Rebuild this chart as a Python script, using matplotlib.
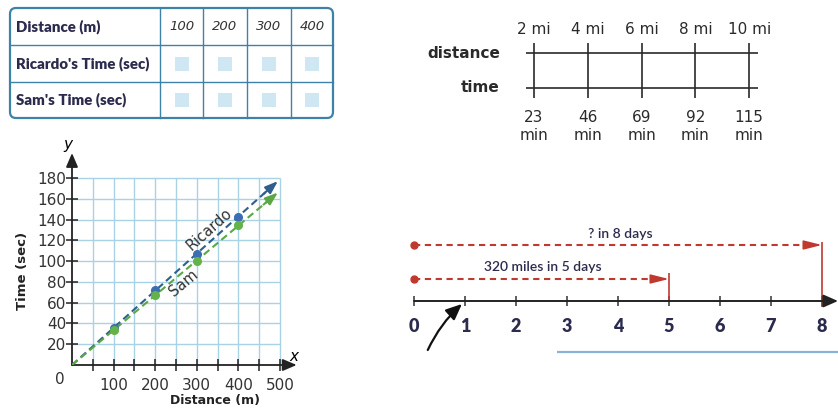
import numpy as np
import matplotlib
matplotlib.use("Agg")
import matplotlib.pyplot as plt
from matplotlib.patches import FancyBboxPatch, Rectangle

W, H = 838, 408

# ---- table data
table_header = "Distance (m)"
table_distances = [100, 200, 300, 400]
table_rows = ["Ricardo's Time (sec)", "Sam's Time (sec)"]

# ---- graph data
graph_x = [100, 200, 300, 400]
ricardo_y = [36, 72, 107, 142]
sam_y = [34, 67, 100, 135]
line_end_x = 495
ricardo_end_y = 177
sam_end_y = 166
x_ticks = [100, 200, 300, 400, 500]
x_minor = [50, 150, 250, 350, 450]
y_ticks = [20, 40, 60, 80, 100, 120, 140, 160, 180]

# ---- double number line
dnl_dist = [2, 4, 6, 8, 10]
dnl_time = [23, 46, 69, 92, 115]

# ---- day number line
days = [0, 1, 2, 3, 4, 5, 6, 7, 8]
known_days = 5
ask_days = 8
known_label = "320 miles in 5 days"
ask_label = "? in 8 days"

NARROW = ["Lato", "DejaVu Sans"]
NAVY = "#2b2b4e"
TBL = "#3f82a8"
RED = "#c0392f"

fig = plt.figure(figsize=(W / 100, H / 100), dpi=100)


def px_axes(x0, y0, x1, y1):
    return fig.add_axes([x0 / W, 1 - y1 / H, (x1 - x0) / W, (y1 - y0) / H])


# ================= table =================
at = px_axes(6, 4, 338, 122)
at.set_xlim(6, 338)
at.set_ylim(122, 4)
at.axis("off")
col_edges = [10, 160, 203, 247, 291, 333]
row_edges = [8, 45, 82, 118]
at.add_patch(FancyBboxPatch((col_edges[0], row_edges[0]), col_edges[-1] - col_edges[0],
                            row_edges[-1] - row_edges[0],
                            boxstyle="round,pad=0,rounding_size=6",
                            fc="white", ec=TBL, lw=1.6))
for cx in col_edges[1:-1]:
    at.plot([cx, cx], [row_edges[0], row_edges[-1]], color=TBL, lw=1.0)
for ry in row_edges[1:-1]:
    at.plot([col_edges[0], col_edges[-1]], [ry, ry], color=TBL, lw=1.0)

labels = [table_header] + table_rows
for i, lab in enumerate(labels):
    yc = (row_edges[i] + row_edges[i + 1]) / 2
    at.text(col_edges[0] + 6, yc, lab, ha="left", va="center", fontsize=10.8,
            fontweight="heavy", family=NARROW, color=NAVY)
for j, d in enumerate(table_distances):
    xc = (col_edges[j + 1] + col_edges[j + 2]) / 2
    at.text(xc, (row_edges[0] + row_edges[1]) / 2, str(d), ha="center", va="center",
            fontsize=9.5, style="italic", color="#333333")
    for i in range(len(table_rows)):
        yc = (row_edges[i + 1] + row_edges[i + 2]) / 2
        at.add_patch(Rectangle((xc - 7, yc - 7), 14, 14, fc="#cfe7f2", ec="none"))

# ================= graph =================
sx, sy = 0.416, 1.039   # px per unit
ox, oy = 72, 365        # origin pixel
ag = px_axes(ox, 140, 300, oy)
ag.set_xlim(0, (300 - ox) / sx)
ag.set_ylim(0, (oy - 140) / sy)
for s in ag.spines.values():
    s.set_visible(False)
ag.patch.set_alpha(0)

grid_c = "#a9d3e5"
ag.vlines(x_minor + x_ticks, 0, y_ticks[-1], color=grid_c, lw=1.0, zorder=1)
ag.hlines(y_ticks, 0, x_ticks[-1], color=grid_c, lw=1.0, zorder=1)

ag.annotate("", xy=((540), 0), xytext=(0, 0),
            arrowprops=dict(arrowstyle="-|>,head_length=0.7,head_width=0.3", color="#222222",
                            lw=1.3, mutation_scale=12, shrinkA=0, shrinkB=0), zorder=3)
ag.annotate("", xy=(0, 204), xytext=(0, 0),
            arrowprops=dict(arrowstyle="-|>,head_length=0.7,head_width=0.3", color="#222222",
                            lw=1.3, mutation_scale=12, shrinkA=0, shrinkB=0), zorder=3)

ag.set_xticks(x_ticks)
ag.set_xticks(x_minor, minor=True)
ag.set_yticks(y_ticks)
ag.set_xticklabels([str(v) for v in x_ticks])
ag.set_yticklabels([str(v) for v in y_ticks])
ag.tick_params(axis="both", which="both", direction="inout", length=8, width=1.1,
               color="#222222", labelsize=11, labelcolor="#333333")
ag.tick_params(axis="x", pad=5)
ag.tick_params(axis="y", pad=0)
ag.text(-29, -14, "0", ha="center", va="center", fontsize=11, color="#333333", clip_on=False)
ag.text(-10, 212, "y", ha="center", va="center", fontsize=11, style="italic", clip_on=False)
ag.text(533, 8, "x", ha="center", va="center", fontsize=11, style="italic", clip_on=False)
ag.text(-118, 91, "Time (sec)", rotation=90, ha="center", va="center", fontsize=9.5,
        fontweight="bold", color="#222222", clip_on=False)
ag.text(344, -34, "Distance (m)", ha="center", va="center", fontsize=9,
        fontweight="bold", color="#222222", clip_on=False)

series = [
    (ricardo_y, ricardo_end_y, "#2f5f8d", "#3b6fb2"),
    (sam_y, sam_end_y, "#5aa844", "#63b24a"),
]
for ys, yend, lc, mc in series:
    ag.plot([0, line_end_x * 0.96], [0, yend * 0.96], color=lc, lw=1.5, dashes=(3.5, 2),
            zorder=4)
    ag.annotate("", xy=(line_end_x, yend), xytext=(line_end_x * 0.93, yend * 0.93),
                arrowprops=dict(arrowstyle="-|>,head_length=0.7,head_width=0.25", color=lc,
                                lw=1.5, mutation_scale=11, shrinkA=0, shrinkB=0), zorder=4)
    ag.plot(graph_x, ys, "o", color=mc, ms=5.5, zorder=5)

ag.text(330, 131, "Ricardo", rotation=41.5, rotation_mode="anchor", ha="center",
        va="center", fontsize=10.5, color="#333333")
ag.text(268, 79, "Sam", rotation=40, rotation_mode="anchor", ha="center",
        va="center", fontsize=10.5, color="#333333")

# ================= double number line =================
ppm = 26.9
ad = px_axes(420, 10, 800, 150)
ad.set_xlim(dnl_dist[0] + (420 - 534) / ppm, dnl_dist[0] + (800 - 534) / ppm)
ad.set_ylim(150, 10)
ad.axis("off")
yd, yt = 53, 88
ad.hlines([yd, yt], dnl_dist[0] - 0.3, dnl_dist[-1] + 0.33, color="#2a2a2a", lw=1.2)
ad.vlines(dnl_dist, yd - 10, yt + 10, color="#2a2a2a", lw=1.2)
for d, t in zip(dnl_dist, dnl_time):
    ad.text(d, 29, f"{d} mi", ha="center", va="center", fontsize=11, color="#2a2a2a")
    ad.text(d, 117, str(t), ha="center", va="center", fontsize=11, color="#2a2a2a")
    ad.text(d, 136, "min", ha="center", va="center", fontsize=11, color="#2a2a2a")
ad.text(dnl_dist[0] - 1.27, yd, "distance", ha="right", va="center", fontsize=11,
        fontweight="bold", color="#2a2a2a")
ad.text(dnl_dist[0] - 1.27, yt, "time", ha="right", va="center", fontsize=11,
        fontweight="bold", color="#2a2a2a")

# ================= day number line =================
ppd = 51
an = px_axes(395, 220, 838, 365)
an.set_xlim((395 - 414) / ppd, (838 - 414) / ppd)
an.set_ylim(365, 220)
an.axis("off")
ya = 301
an.annotate("", xy=((838 - 414) / ppd, ya), xytext=(days[0], ya),
            arrowprops=dict(arrowstyle="-|>,head_length=0.8,head_width=0.35", color="#222222",
                            lw=1.4, mutation_scale=11, shrinkA=0, shrinkB=0))
an.vlines(days, ya - 5, ya + 5, color="#333333", lw=1.1)
for d in days:
    an.text(d, 327, str(d), ha="center", va="center", fontsize=13, fontweight="heavy",
            family=NARROW, color=NAVY)

for yl, dd, lab in [(279, known_days, known_label), (245, ask_days, ask_label)]:
    an.plot([days[0], dd - 0.2], [yl, yl], color=RED, lw=1.5, dashes=(3, 2.2))
    an.plot(days[0], yl, "o", color=RED, ms=5)
    an.annotate("", xy=(dd, yl), xytext=(dd - 0.3, yl),
                arrowprops=dict(arrowstyle="-|>,head_length=1.0,head_width=0.25", color=RED,
                                lw=1.2, mutation_scale=11, shrinkA=0, shrinkB=0))
an.vlines(known_days, 273, ya, color=RED, lw=1.2)
an.vlines(ask_days, 242, 307, color=RED, lw=1.2)
an.text(2.53, 267, known_label, ha="center", va="center", fontsize=10, family=NARROW,
        fontweight="semibold", color=NAVY)
an.text(4.04, 234, ask_label, ha="center", va="center", fontsize=10, family=NARROW,
        fontweight="semibold", color=NAVY)
an.annotate("", xy=(0.94, 304), xytext=(0.27, 350),
            arrowprops=dict(arrowstyle="-|>,head_length=0.8,head_width=0.35", color="#111111",
                            lw=1.6, mutation_scale=12, shrinkA=0, shrinkB=0,
                            connectionstyle="arc3,rad=-0.1"))
an.hlines(352, 2.8, 8.4, color="#6f9fcc", lw=1.6, alpha=0.8)

fig.savefig("out.png", dpi=100)
